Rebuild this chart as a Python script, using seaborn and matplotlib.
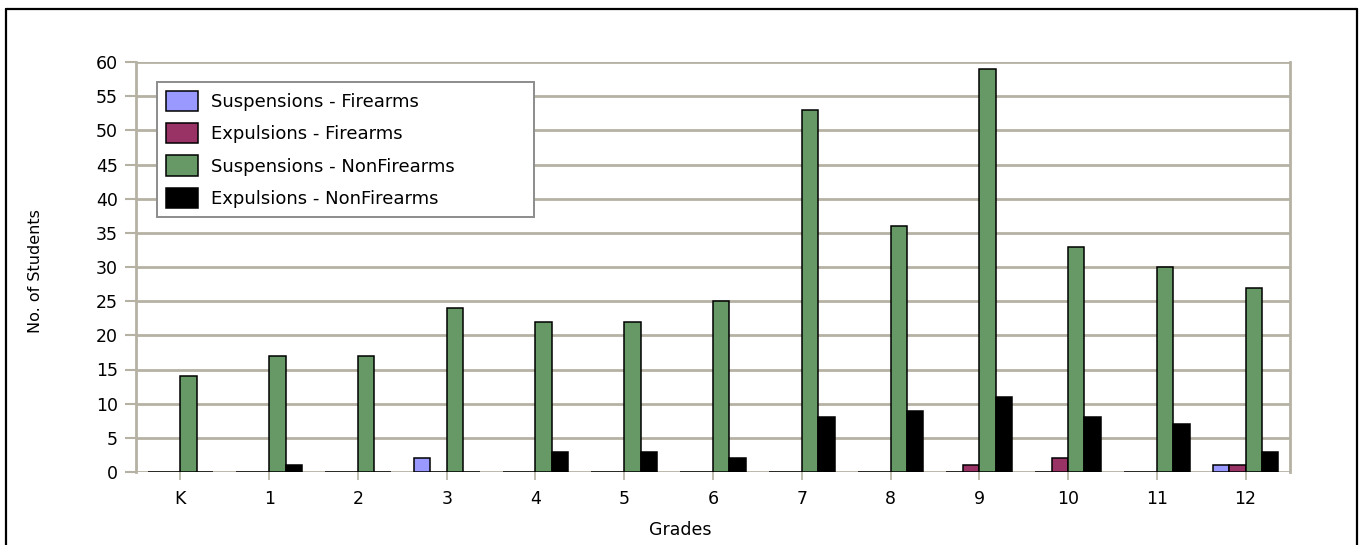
import matplotlib
matplotlib.use("Agg")
import matplotlib.pyplot as plt
from matplotlib.lines import Line2D
import seaborn as sns
import pandas as pd

grades = ["K", "1", "2", "3", "4", "5", "6", "7", "8", "9", "10", "11", "12"]
susp_firearms = [0, 0, 0, 2, 0, 0, 0, 0, 0, 0, 0, 0, 1]
expl_firearms = [0, 0, 0, 0, 0, 0, 0, 0, 0, 1, 2, 0, 1]
susp_nonfirearms = [14, 17, 17, 24, 22, 22, 25, 53, 36, 59, 33, 30, 27]
expl_nonfirearms = [0, 1, 0, 0, 3, 3, 2, 8, 9, 11, 8, 7, 3]
series_names = ["Suspensions - Firearms", "Expulsions - Firearms",
                "Suspensions - NonFirearms", "Expulsions - NonFirearms"]
series_values = [susp_firearms, expl_firearms, susp_nonfirearms, expl_nonfirearms]
colors = ["#9999FF", "#993366", "#669966", "#000000"]

rows = []
for name, vals in zip(series_names, series_values):
    for g, v in zip(grades, vals):
        rows.append({"Grade": g, "Series": name, "Count": v})
df = pd.DataFrame(rows)

sns.set_style("white")
plt.rcParams["font.family"] = ["DejaVu Sans"]

W, H = 1365, 545
fig = plt.figure(figsize=(W / 100, H / 100), dpi=100)
ax = fig.add_axes([136 / W, 1 - 472 / H, (1290 - 136) / W, (472 - 62) / H])

sns.barplot(data=df, x="Grade", y="Count", hue="Series", order=grades,
            hue_order=series_names, palette=colors, width=0.74,
            edgecolor="black", linewidth=1.1, saturation=1, ax=ax,
            errorbar=None)

gridc = "#B5B1A3"
ax.set_ylim(0, 60)
ax.set_xlim(-0.5, len(grades) - 0.5)
ax.set_yticks(range(0, 61, 5))
ax.yaxis.grid(True, color=gridc, linewidth=2.0)
ax.xaxis.grid(False)
ax.set_axisbelow(True)
for s in ["top", "bottom"]:
    ax.spines[s].set_visible(False)
for s in ["left", "right"]:
    ax.spines[s].set_visible(True)
    ax.spines[s].set_color(gridc)
    ax.spines[s].set_linewidth(2.0)

ax.tick_params(axis="y", length=8, width=1.5, color=gridc, pad=5,
               labelsize=12.5, labelcolor="#000000", left=True)
ax.tick_params(axis="x", length=6, width=1.2, color=gridc, pad=7,
               labelsize=12.5, labelcolor="#000000", bottom=True)

ax.set_xlabel("Grades", fontsize=12.5, color="#000000")
ax.xaxis.set_label_coords((680 - 136) / (1290 - 136), -0.12)
ax.set_ylabel("No. of Students", fontsize=11.5, color="#000000")
ax.yaxis.set_label_coords(-(136 - 43) / (1290 - 136), 0.49)

handles, labels = ax.get_legend_handles_labels()
lx0, ly0, lx1, ly1 = 157, 82, 534, 217
leg = ax.legend(handles, labels, loc="upper left",
                bbox_to_anchor=(lx0 / W, 1 - ly1 / H, (lx1 - lx0) / W, (ly1 - ly0) / H),
                bbox_transform=fig.transFigure, borderaxespad=0, mode="expand",
                fontsize=13, frameon=True, fancybox=False,
                edgecolor="#8C8C8C", facecolor="white", framealpha=1,
                handlelength=1.75, handleheight=1.35, handletextpad=0.75,
                labelspacing=0.66, borderpad=0.5, title=None)
leg.get_frame().set_linewidth(1.4)
for t in leg.get_texts():
    t.set_color("#000000")

# figure border (left, top, right)
bx0, bx1, by = 6 / W, 1357 / W, 1 - 9 / H
fig.add_artist(Line2D([bx0, bx0], [0, by], transform=fig.transFigure, color="black", linewidth=1.6))
fig.add_artist(Line2D([bx0, bx1], [by, by], transform=fig.transFigure, color="black", linewidth=1.6))
fig.add_artist(Line2D([bx1, bx1], [by, 0], transform=fig.transFigure, color="black", linewidth=1.6))

fig.savefig("out.png", dpi=100)
